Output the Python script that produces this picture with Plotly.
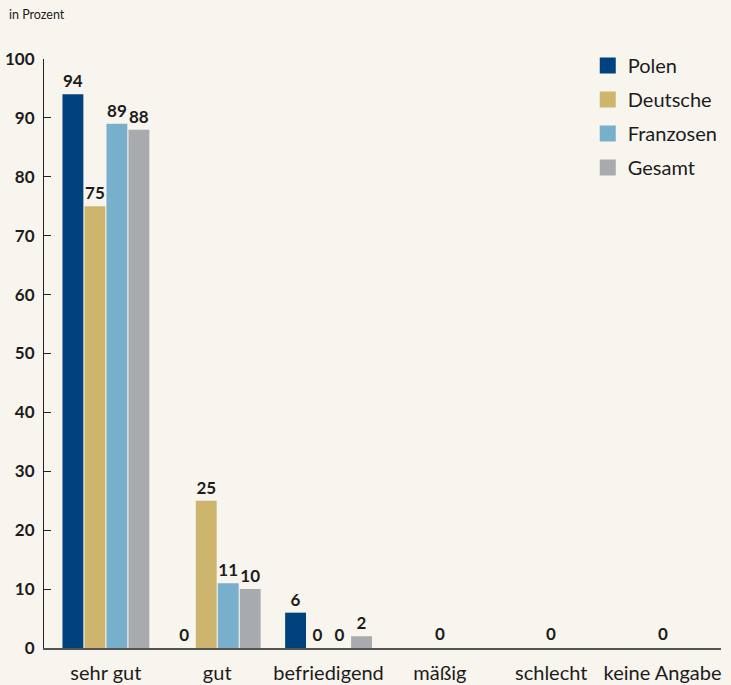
import plotly.graph_objects as go

categories = ["sehr gut", "gut", "befriedigend", "mäßig", "schlecht", "keine Angabe"]
polen = [94, 0, 6, None, None, None]
deutsche = [75, 25, 0, None, None, None]
franzosen = [89, 11, 0, None, None, None]
gesamt = [88, 10, 2, None, None, None]
zero_label_cats = ["mäßig", "schlecht", "keine Angabe"]
zero_label_vals = [0, 0, 0]

series_names = ["Polen", "Deutsche", "Franzosen", "Gesamt"]
series_vals = [polen, deutsche, franzosen, gesamt]
colors = ["#00427d", "#cdb56d", "#78afcb", "#a8abae"]

FONT = "Lato, 'Open Sans', sans-serif"
TXT = "#1c1c1c"

fig = go.Figure()
for name, vals, col in zip(series_names, series_vals, colors):
    fig.add_trace(go.Bar(
        x=categories, y=vals, name=name, marker_color=col,
        marker_line_width=0,
        text=[("" if v is None else str(v)) for v in vals],
        textposition="outside", cliponaxis=False,
        textfont=dict(family=FONT, size=17, color=TXT, weight="bold"),
        showlegend=False,
    ))
for i, (name, col) in enumerate(zip(series_names, colors)):
    fig.add_trace(go.Scatter(
        x=[None], y=[None], mode="markers", name=name,
        marker=dict(symbol="square", size=16, color=col),
        legendgroup="g%d" % i, showlegend=True,
    ))

for c, v in zip(zero_label_cats, zero_label_vals):
    fig.add_annotation(x=c, y=v, text="<b>%d</b>" % v, showarrow=False,
                       yanchor="bottom", yshift=2,
                       font=dict(family=FONT, size=17, color=TXT))

fig.add_annotation(x=0, xref="paper", xshift=-37, y=1, yref="paper", yshift=35,
                   text="in Prozent", showarrow=False, xanchor="left",
                   yanchor="bottom", font=dict(family=FONT, size=12.5, color=TXT))

fig.update_layout(
    width=731, height=685,
    margin=dict(l=44, r=9, t=59, b=37),
    paper_bgcolor="#f8f5ee", plot_bgcolor="#f8f5ee",
    barmode="group", bargap=0.21, bargroupgap=0.05,
    font=dict(family=FONT, color=TXT),
    legend=dict(x=0.802, xanchor="left", y=1.022, yanchor="top",
                font=dict(family=FONT, size=20, color=TXT),
                bgcolor="rgba(0,0,0,0)", traceorder="grouped",
                tracegroupgap=5),
    xaxis=dict(range=[-0.556, 5.525], showline=True, linecolor="#555555",
               linewidth=2, ticks="", showgrid=False, zeroline=False,
               tickfont=dict(family=FONT, size=20, color=TXT),
               ticklabelstandoff=6, automargin=False),
    yaxis=dict(range=[0, 100], showline=True, linecolor="#222222", linewidth=1,
               ticks="inside", ticklen=7, tickcolor="#222222", tickwidth=1,
               tickvals=[0, 10, 20, 30, 40, 50, 60, 70, 80, 90, 100],
               showgrid=False, zeroline=False, automargin=False,
               tickfont=dict(family=FONT, size=17, color=TXT, weight="bold"),
               ticklabelstandoff=5),
)

fig.write_html("out.html")
